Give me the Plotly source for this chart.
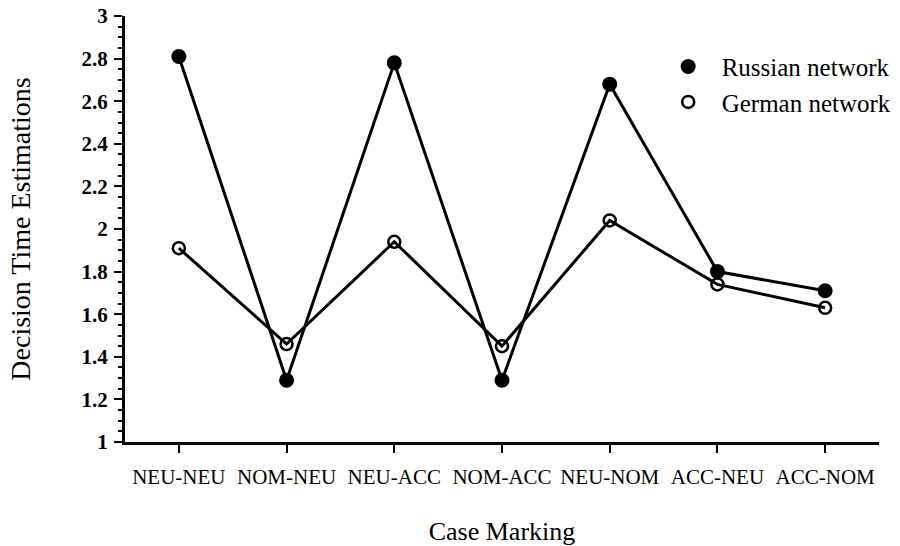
import plotly.graph_objects as go

categories = ["NEU-NEU", "NOM-NEU", "NEU-ACC", "NOM-ACC", "NEU-NOM", "ACC-NEU", "ACC-NOM"]
russian = [2.81, 1.29, 2.78, 1.29, 2.68, 1.80, 1.71]
german = [1.91, 1.46, 1.94, 1.45, 2.04, 1.74, 1.63]
y_ticks = [1, 1.2, 1.4, 1.6, 1.8, 2, 2.2, 2.4, 2.6, 2.8, 3]

serif = "Liberation Serif, Times New Roman, serif"
xs = list(range(len(categories)))

fig = go.Figure()
fig.add_trace(go.Scatter(
    x=xs, y=russian, mode="lines+markers", showlegend=False,
    line=dict(color="black", width=3),
    marker=dict(symbol="circle", size=15, color="black"),
))
fig.add_trace(go.Scatter(
    x=xs, y=german, mode="lines+markers", showlegend=False,
    line=dict(color="black", width=3),
    marker=dict(symbol="circle-open", size=12, color="black", line=dict(width=2.5)),
))
# legend entries (markers only)
fig.add_trace(go.Scatter(
    x=[None], y=[None], mode="markers", name="Russian network",
    marker=dict(symbol="circle", size=15, color="black"),
))
fig.add_trace(go.Scatter(
    x=[None], y=[None], mode="markers", name="German network",
    marker=dict(symbol="circle-open", size=12, color="black", line=dict(width=2.5)),
))

fig.update_layout(
    width=900, height=546, autosize=False,
    margin=dict(l=125, r=21, t=16, b=104, autoexpand=False),
    paper_bgcolor="white", plot_bgcolor="white",
    font=dict(family=serif, color="black"),
    legend=dict(
        x=0.7025, y=0.935, xanchor="left", yanchor="top",
        font=dict(family=serif, size=25, color="black"),
        bgcolor="rgba(0,0,0,0)", itemwidth=57, tracegroupgap=0,
    ),
    xaxis=dict(
        range=[-0.5, 6.5], automargin=False,
        tickmode="array", tickvals=xs, ticktext=categories,
        ticks="outside", ticklen=8, tickwidth=2, tickcolor="black",
        ticklabelstandoff=6,
        showline=True, linecolor="black", linewidth=3,
        showgrid=False, zeroline=False,
        tickfont=dict(family=serif, size=21, color="black"),
        title=dict(text="Case Marking", font=dict(family=serif, size=26), standoff=41),
    ),
    yaxis=dict(
        range=[1, 3], automargin=False,
        tickmode="array", tickvals=y_ticks,
        ticktext=["<b>%g</b>" % v for v in y_ticks],
        ticks="outside", ticklen=8, tickwidth=2, tickcolor="black",
        ticklabelstandoff=2, ticklabeloverflow="allow",
        minor=dict(dtick=0.05, ticks="outside", ticklen=4, tickwidth=1.5, tickcolor="black", showgrid=False),
        showline=True, linecolor="black", linewidth=3,
        showgrid=False, zeroline=False,
        tickfont=dict(family=serif, size=21, color="black"),
        title=dict(text="Decision Time Estimations", font=dict(family=serif, size=28), standoff=43),
    ),
)

fig.write_html(
    "out.html",
    config={"responsive": False, "displayModeBar": False},
    post_script="document.body.style.margin='0';document.body.style.padding='0';document.body.style.overflow='hidden';",
)
